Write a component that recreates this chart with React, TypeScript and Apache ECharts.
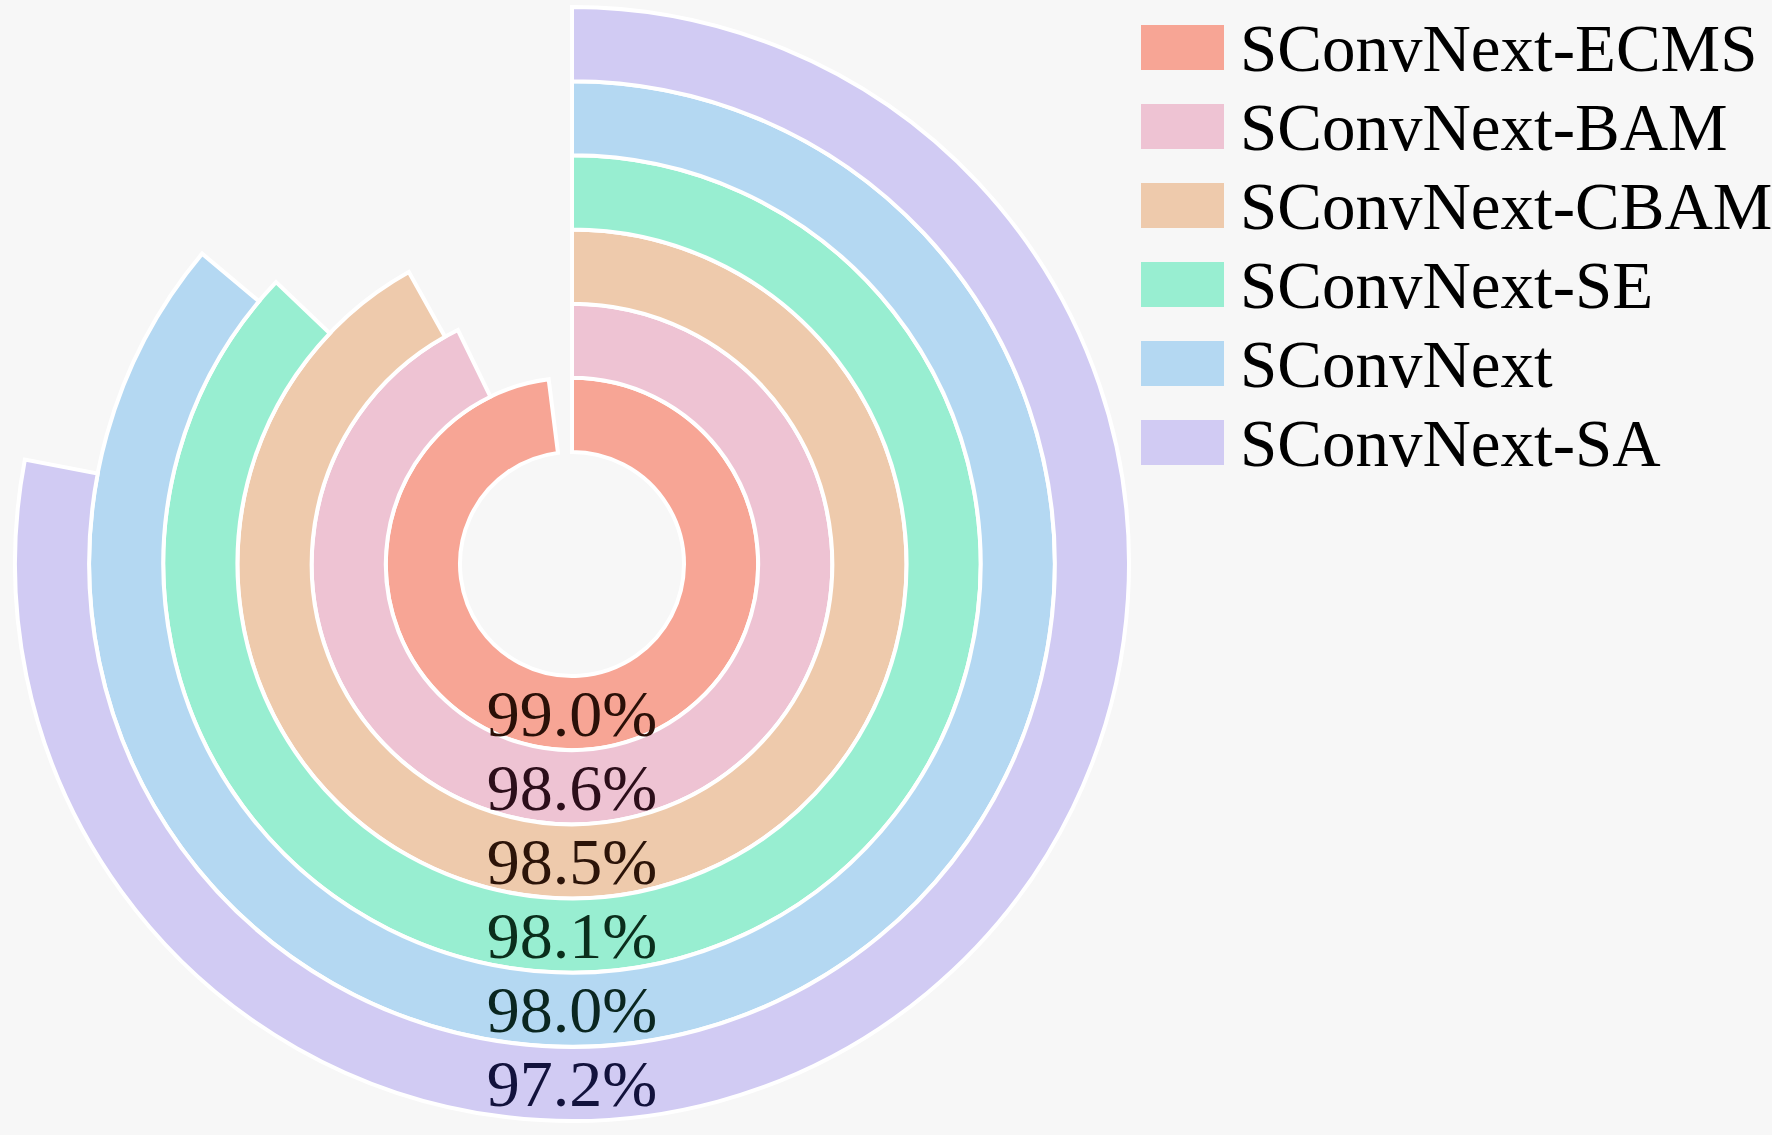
import React, { useEffect, useRef } from "react";
import * as echarts from "echarts";

const names = [
  "SConvNext-ECMS",
  "SConvNext-BAM",
  "SConvNext-CBAM",
  "SConvNext-SE",
  "SConvNext",
  "SConvNext-SA",
];
// accuracy (%), innermost ring first
const values = [99.04, 98.57, 98.49, 98.06, 97.97, 97.24];
const colors = ["#f7a595", "#eec3d3", "#eecaac", "#98eed1", "#b4d8f2", "#d1cbf3"];
const labelColors = ["#2a1008", "#2c0e1a", "#2c1409", "#0b2e1c", "#0a2620", "#12123c"];
const angleMin = 90.22;
const angleMax = 99.22;

const FONT = '"Times New Roman", "Liberation Serif", "DejaVu Serif", serif';

export default function App() {
  const ref = useRef<HTMLDivElement>(null);
  useEffect(() => {
    document.body.style.margin = "0";
    if (!ref.current) return;
    const chart = echarts.init(ref.current, null, { renderer: "svg" });
    const series = names.map((name, i) => ({
      type: "bar",
      name,
      coordinateSystem: "polar",
      polarIndex: 0,
      barGap: "-100%",
      barCategoryGap: "0%",
      data: values.map((v, j) => (j === i ? v : "-")),
      itemStyle: { color: colors[i], borderColor: "#ffffff", borderWidth: 4 },
      emphasis: { disabled: true },
      z: 2,
    }));
    chart.setOption({
      animation: false,
      backgroundColor: "#f7f7f7",
      legend: {
        orient: "vertical",
        left: 1141,
        top: 14,
        padding: 0,
        icon: "rect",
        itemWidth: 83,
        itemHeight: 45,
        itemGap: 12,
        itemStyle: { borderWidth: 0 },
        textStyle: {
          fontFamily: FONT,
          fontSize: 67,
          lineHeight: 67,
          color: "#000",
          padding: [0, 0, 0, 11],
        },
        data: names,
      },
      polar: [
        { center: [572, 564], radius: [112, 557] },
        { center: [572, 564], radius: [112, 557] },
      ],
      angleAxis: [
        {
          polarIndex: 0,
          type: "value",
          min: angleMin,
          max: angleMax,
          startValue: angleMin,
          startAngle: 90,
          clockwise: true,
          show: false,
        },
        {
          polarIndex: 1,
          type: "value",
          min: 0,
          max: 1,
          startAngle: 270,
          show: false,
        },
      ],
      radiusAxis: [
        {
          polarIndex: 0,
          type: "category",
          data: names,
          show: false,
        },
        {
          polarIndex: 1,
          type: "category",
          data: names,
          z: 10,
          axisLine: { show: false },
          axisTick: { show: false },
          splitLine: { show: false },
          axisLabel: {
            show: true,
            interval: 0,
            margin: 0,
            align: "center",
            verticalAlign: "middle",
            fontFamily: FONT,
            fontSize: 66,
            formatter: (val: string) => values[names.indexOf(val)].toFixed(1) + "%",
            color: (val: string) => labelColors[names.indexOf(val)],
          },
        },
      ],
      series,
    });
    return () => chart.dispose();
  }, []);
  return <div ref={ref} style={{ width: 1772, height: 1135 }} />;
}
